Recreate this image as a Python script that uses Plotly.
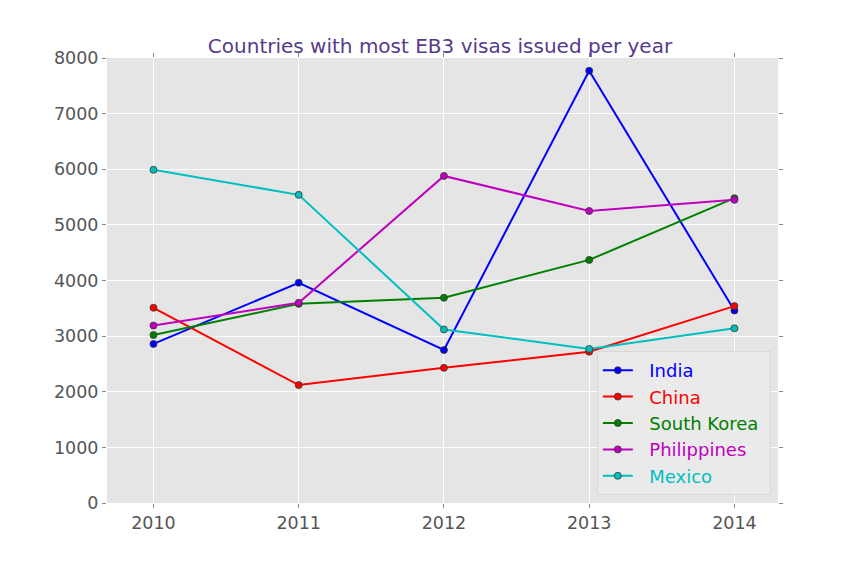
import plotly.graph_objects as go

years = [2010, 2011, 2012, 2013, 2014]
india = [2860, 3960, 2750, 7770, 3460]
china = [3510, 2120, 2430, 2720, 3540]
south_korea = [3020, 3580, 3690, 4370, 5480]
philippines = [3190, 3600, 5880, 5250, 5450]
mexico = [5990, 5540, 3120, 2770, 3140]

series = [
    ("India", india, "#0000FF"),
    ("China", china, "#FF0000"),
    ("South Korea", south_korea, "#008000"),
    ("Philippines", philippines, "#BF00BF"),
    ("Mexico", mexico, "#00BFBF"),
]

NB = "\u00a0"
fig = go.Figure()
for name, vals, col in series:
    label = f"{NB}{NB}<span style='color:{col}'>{name}</span>"
    if name == "South Korea":
        label += NB
    fig.add_trace(go.Scatter(
        x=years, y=vals, name=label,
        mode="lines+markers",
        line=dict(color=col, width=2),
        marker=dict(size=7, color=col, line=dict(color="#333333", width=0.8)),
    ))

axis_common = dict(
    showgrid=True, gridcolor="white", gridwidth=1, zeroline=False,
    ticks="outside", ticklen=4, tickcolor="#888888", mirror="ticks",
    showline=False, tickfont=dict(size=17.5, color="#555555", family="DejaVu Sans"),
)

fig.update_layout(
    width=864, height=576,
    margin=dict(l=99, r=94, t=50, b=81),
    paper_bgcolor="white", plot_bgcolor="#E5E5E5",
    font=dict(family="DejaVu Sans"),
    title=dict(text="Countries with most EB3 visas issued per year",
               x=0.5, xanchor="center", y=1 - 38/576, yanchor="middle",
               font=dict(size=20, color="#553C8B", family="DejaVu Sans")),
    xaxis=dict(range=[2009.68, 2014.3], tickvals=years, ticktext=[str(y) for y in years], **axis_common),
    yaxis=dict(range=[0, 8000], dtick=1000, **axis_common),
    showlegend=True,
    legend=dict(x=0.730, y=0.018, xanchor="left", yanchor="bottom",
                bgcolor="rgba(235,235,235,0.85)", bordercolor="#D8D8D8", borderwidth=1,
                font=dict(size=18, family="DejaVu Sans")),
)

fig.write_html("out.html")
